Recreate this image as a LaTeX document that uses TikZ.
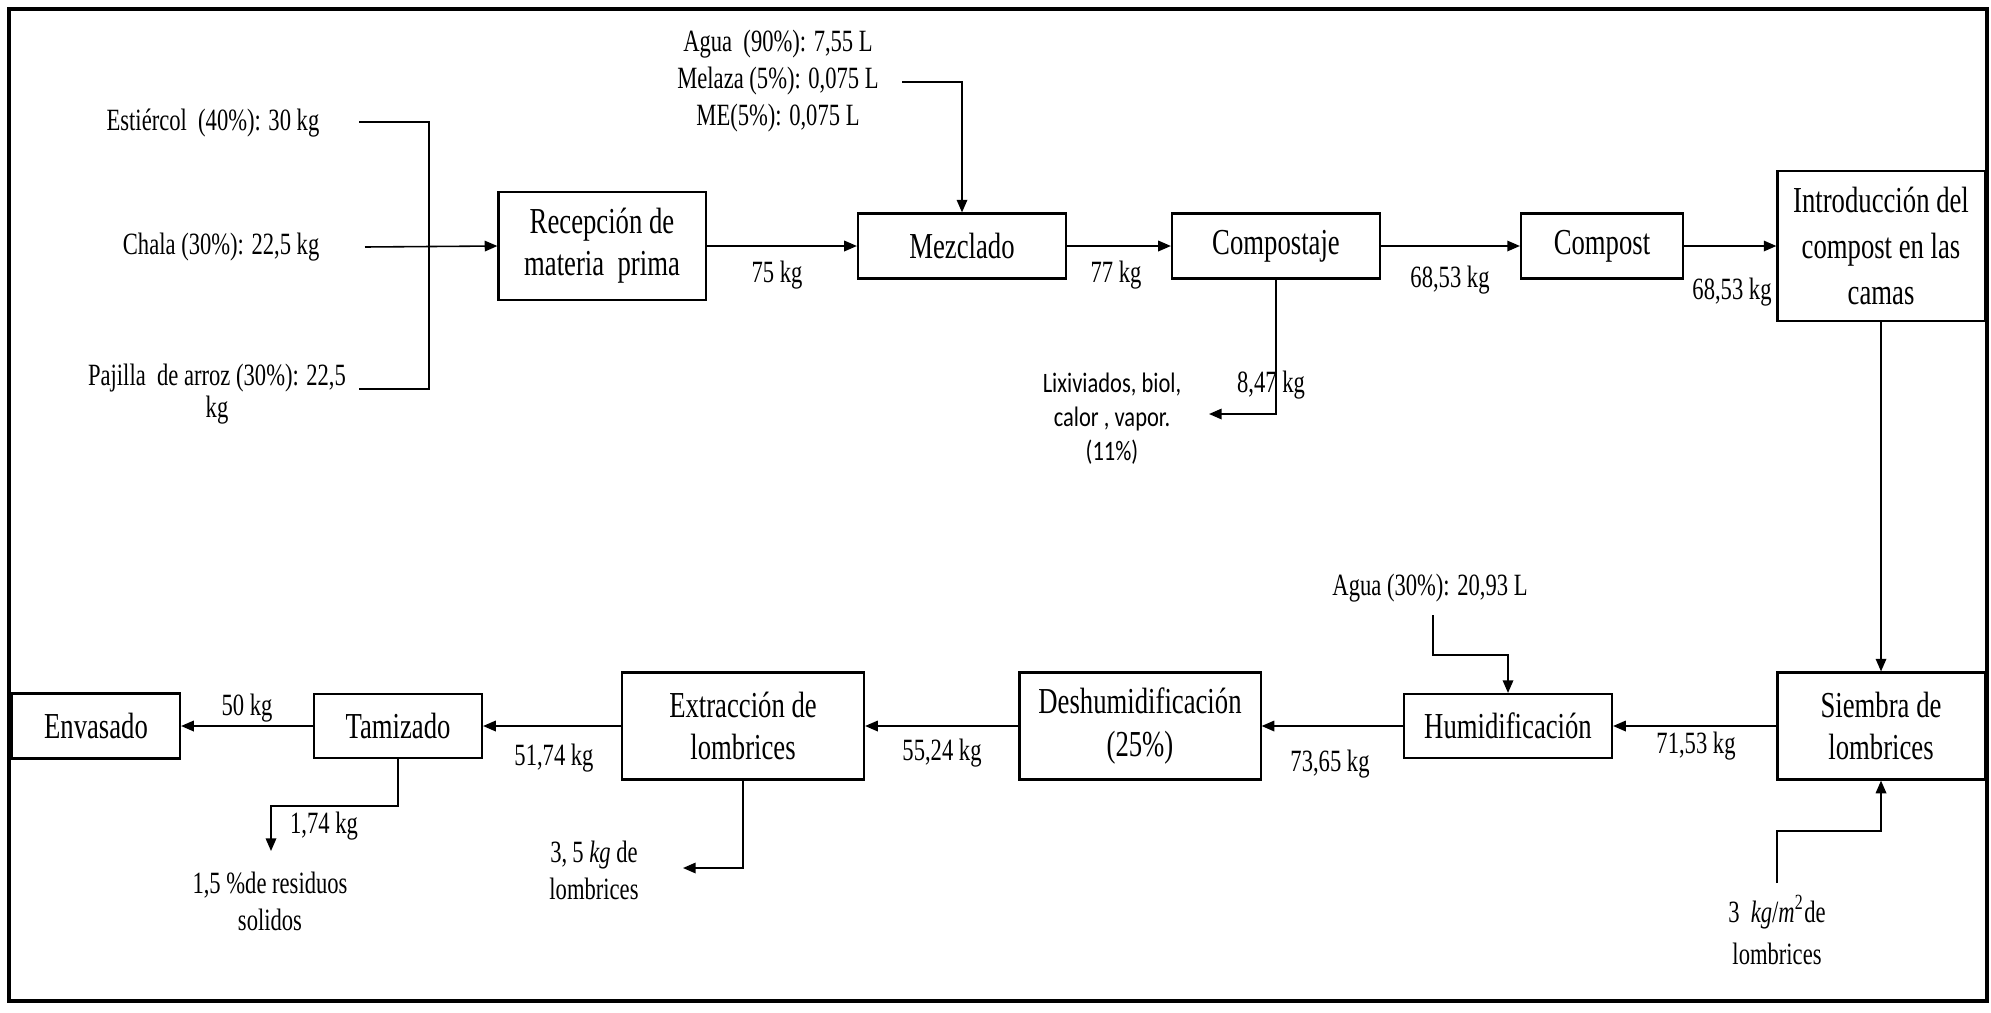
\documentclass[tikz,border=0pt]{standalone}
\usepackage{fontspec}
\setmainfont[FakeStretch=0.73]{Liberation Serif}
\newfontfamily\lixfont[FakeStretch=0.8]{Carlito}
\usetikzlibrary{arrows.meta}
\newcommand{\boxfont}{\fontsize{10.4}{12}\selectfont}
\newcommand{\lblfont}{\fontsize{8.8}{10.5}\selectfont}

\begin{document}
\begin{tikzpicture}[
    x=0.01cm, y=-0.01cm,
    proc/.style={rectangle, draw, line width=0.6pt, align=center, inner sep=0pt, font=\boxfont},
    lbl/.style={align=center, inner sep=0pt, font=\lblfont},
    flow/.style={-{Triangle[length=3.6pt,width=3pt]}, line width=0.45pt},
    link/.style={line width=0.45pt}
]
\useasboundingbox (0,0) rectangle (1991,1012);
\draw[line width=0.9pt] (9,9) rectangle (1987,1001);

% Top row
\node[proc, minimum width=2.07cm, minimum height=1.08cm] (recep) at (602,246) {Recepción de\\materia\ \ prima};
\node[proc, minimum width=2.08cm, minimum height=0.65cm] (mezcla) at (962,246) {Mezclado};
\node[proc, minimum width=2.08cm, minimum height=0.65cm] (compostaje) at (1276,246) {Compostaje};
\node[proc, minimum width=1.62cm, minimum height=0.65cm] (compost) at (1602,246) {Compost};
\node[proc, minimum width=2.07cm, minimum height=1.50cm, font=\fontsize{10.4}{13}\selectfont] (intro) at (1881,246) {Introducción del\\compost en las\\camas};

% Bottom row
\node[proc, minimum width=2.07cm, minimum height=1.07cm] (siembra) at (1881,726) {Siembra de\\lombrices};
\node[proc, minimum width=2.08cm, minimum height=0.64cm] (humid) at (1508,726) {Humidificación};
\node[proc, minimum width=2.41cm, minimum height=1.07cm] (deshum) at (1140,726) {Deshumidificación\\(25\%)};
\node[proc, minimum width=2.42cm, minimum height=1.07cm] (extrac) at (743,726) {Extracción de\\lombrices};
\node[proc, minimum width=1.68cm, minimum height=0.64cm] (tamiz) at (398,726) {Tamizado};
\node[proc, minimum width=1.68cm, minimum height=0.65cm] (envas) at (96,726) {Envasado};

% Inputs and outputs
\node[lbl, anchor=east] (estiercol) at (320,123) {Estiércol\ \ (40\%): 30 kg};
\node[lbl, anchor=east] (chala) at (320,247) {Chala (30\%): 22,5 kg};
\node[lbl, font=\fontsize{8.8}{9}\selectfont] (pajilla) at (217,394) {Pajilla\ \ de arroz (30\%): 22,5\\kg};
\node[lbl] (aditivos) at (778,81) {Agua\ \ (90\%): 7,55 L\\Melaza (5\%): 0,075 L\\ME(5\%): 0,075 L};
\node[lbl, font=\lixfont\fontsize{8}{9.7}\selectfont] (lixiv) at (1112,419) {Lixiviados, biol,\\calor , vapor.\\(11\%)};
\node[lbl] (agua2) at (1430,588) {Agua (30\%): 20,93 L};
\node[lbl, font=\fontsize{8.8}{12}\selectfont] (lombtxt) at (1777,930) {3\ \ \textit{kg}/\textit{m}\textsuperscript{2}de\\lombrices};
\node[lbl] (lombsal) at (594,870) {3,\,5 \textit{kg} de\\lombrices};
\node[lbl] (residuos) at (270,901) {1,5 \%de residuos\\solidos};

% Mass labels
\node[lbl] (m75) at (777,275) {75 kg};
\node[lbl] (m77) at (1116,275) {77 kg};
\node[lbl] (m6853a) at (1450,280) {68,53 kg};
\node[lbl] (m6853b) at (1732,292) {68,53 kg};
\node[lbl] (m847) at (1271,385) {8,47 kg};
\node[lbl] (m7153) at (1696,746) {71,53 kg};
\node[lbl] (m7365) at (1330,764) {73,65 kg};
\node[lbl] (m5524) at (942,753) {55,24 kg};
\node[lbl] (m5174) at (554,758) {51,74 kg};
\node[lbl] (m50) at (247,708) {50 kg};
\node[lbl] (m174) at (324,826) {1,74 kg};

% Free ends
\coordinate (estin) at (359,122);
\coordinate (junc) at (429,122);
\coordinate (pajin) at (359,389);
\coordinate (chain) at (365,247);
\coordinate (adin) at (902,82);
\coordinate (lixout) at (1209,414);
\coordinate (lombin) at (1777,883);
\coordinate (aguain) at (1433,615);
\coordinate (lombout) at (683,868);
\coordinate (resout) at (271,851);

% Connectors
\draw[link] (estin) -- (junc) |- (pajin);
\draw[flow] (chain) -- (recep.west);
\draw[flow] (adin) -| (mezcla.north);
\draw[flow] (recep) -- (mezcla);
\draw[flow] (mezcla) -- (compostaje);
\draw[flow] (compostaje) -- (compost);
\draw[flow] (compost) -- (intro);
\draw[flow] (compostaje.south) |- (lixout);
\draw[flow] (intro) -- (siembra);
\draw[flow] (lombin) -- ++(0,-52) -| (siembra.south);
\draw[flow] (siembra) -- (humid);
\draw[flow] (aguain) -- ++(0,40) -| (humid.north);
\draw[flow] (humid) -- (deshum);
\draw[flow] (deshum) -- (extrac);
\draw[flow] (extrac.south) |- (lombout);
\draw[flow] (extrac) -- (tamiz);
\draw[flow] (tamiz) -- (envas);
\draw[flow] (tamiz.south) -- ++(0,47) -| (resout);

\end{tikzpicture}
\end{document}
